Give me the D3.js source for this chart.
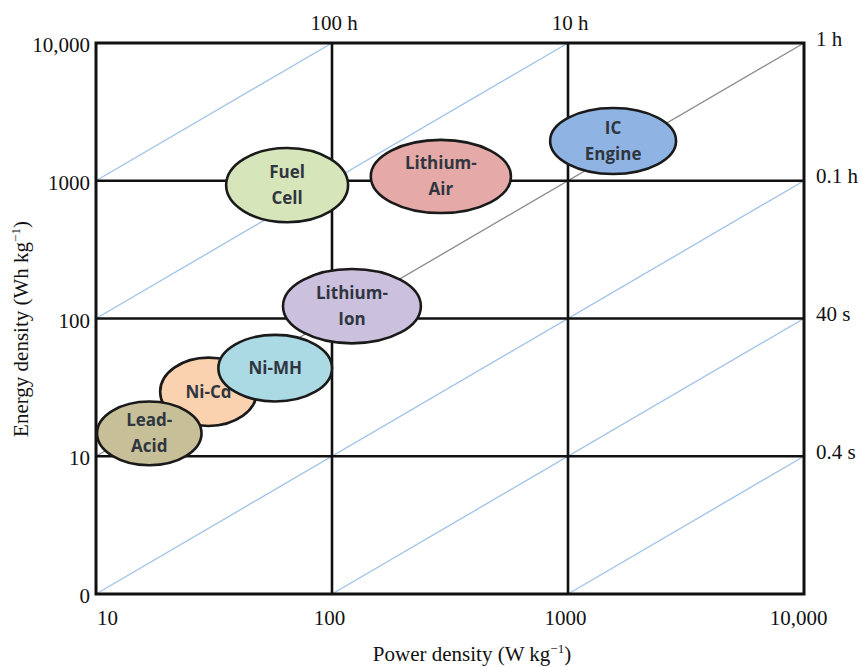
<!DOCTYPE html>
<html>
<head>
<meta charset="utf-8">
<script src="https://cdn.jsdelivr.net/npm/d3@7"></script>
<style>
  body { margin: 0; background: #fff; }
  svg { display: block; }
</style>
</head>
<body>
<svg id="plot" width="861" height="667"></svg>
<script>
// Ragone plot data
const powerTicks = [10, 100, 1000, 10000];
const powerTickLabels = ["10", "100", "1000", "10,000"];
const energyTicks = [1, 10, 100, 1000, 10000];
const energyTickLabels = ["0", "10", "100", "1000", "10,000"];

// discharge-time lines, hours (E / P)
const timeLines = [100, 10, 1, 0.1, 0.01, 0.001];
const topTimeLabels = ["100 h", "10 h"];
const topTimePower = [100, 1000];
const rightTimeLabels = ["1 h", "0.1 h", "40 s", "0.4 s"];
const rightTimeEnergy = [10000, 1000, 100, 10];

// technologies (drawing order), ranges in W/kg and Wh/kg
const techNames = ["Lithium-Ion", "Ni-Cd", "Lead-Acid", "Ni-MH", "Fuel Cell", "Lithium-Air", "IC Engine"];
const techLabels = ["Lithium-\nIon", "Ni-Cd", "Lead-\nAcid", "Ni-MH", "Fuel\nCell", "Lithium-\nAir", "IC\nEngine"];
const powerMin = [62, 18.7, 10.1, 33, 35.6, 146, 840];
const powerMax = [238, 48, 28, 100, 117, 573, 2870];
const energyMin = [66, 16.6, 8.6, 25, 500, 583, 1120];
const energyMax = [229, 52, 25, 76, 1730, 1980, 3370];

const techColors = {
    "Lithium-Ion": "#cbc0dd",
    "Ni-Cd": "#fbd2b0",
    "Lead-Acid": "#c6bf98",
    "Ni-MH": "#abd9e4",
    "Fuel Cell": "#d7e5ba",
    "Lithium-Air": "#e5a9a8",
    "IC Engine": "#8fb4e3"
};

const svg = d3.select("#plot");
const plotLeft = 96, plotRight = 804, plotTop = 43, plotBottom = 594;

const x = d3.scaleLog().domain([10, 10000]).range([plotLeft, plotRight]);
const y = d3.scaleLog().domain([1, 10000]).range([plotBottom, plotTop]);

const serif = "'Liberation Serif', 'Times New Roman', serif";

// time lines
timeLines.forEach(t => {
    const p0 = Math.max(10, 1 / t);
    const p1 = Math.min(10000, 10000 / t);
    svg.append("line")
        .attr("x1", x(p0))
        .attr("y1", y(p0 * t))
        .attr("x2", x(p1))
        .attr("y2", y(p1 * t))
        .attr("stroke", t === 1 ? "#8a8a8a" : "#9ec2e8")
        .attr("stroke-width", 1.3);
});

// grid lines
powerTicks.slice(1, -1).forEach(p => {
    svg.append("line")
        .attr("x1", x(p)).attr("x2", x(p))
        .attr("y1", plotTop).attr("y2", plotBottom)
        .attr("stroke", "#111").attr("stroke-width", 2.6);
});
energyTicks.slice(1, -1).forEach(e => {
    svg.append("line")
        .attr("x1", plotLeft).attr("x2", plotRight)
        .attr("y1", y(e)).attr("y2", y(e))
        .attr("stroke", "#111").attr("stroke-width", 2.6);
});
svg.append("rect")
    .attr("x", plotLeft).attr("y", plotTop)
    .attr("width", plotRight - plotLeft).attr("height", plotBottom - plotTop)
    .attr("fill", "none")
    .attr("stroke", "#111")
    .attr("stroke-width", 3);

// axes (labels only)
const xAxis = svg.append("g")
    .attr("transform", `translate(0,${plotBottom})`)
    .call(d3.axisBottom(x).tickValues(powerTicks).tickSize(0)
        .tickFormat((d, i) => powerTickLabels[i]));
xAxis.select(".domain").remove();
xAxis.selectAll("text")
    .attr("y", 31).attr("dy", 0)
    .attr("font-family", serif).attr("font-size", 21).attr("fill", "#111")
    .attr("dx", (d, i) => i === 0 ? 11 : (i === 3 ? -6 : -3));

const yAxis = svg.append("g")
    .attr("transform", `translate(${plotLeft},0)`)
    .call(d3.axisLeft(y).tickValues(energyTicks).tickSize(0)
        .tickFormat((d, i) => energyTickLabels[i]));
yAxis.select(".domain").remove();
yAxis.selectAll("text")
    .attr("x", -6).attr("dy", 8.5)
    .attr("font-family", serif).attr("font-size", 21).attr("fill", "#111");

// time labels
svg.selectAll(".top-label")
    .data(topTimeLabels)
    .join("text")
    .attr("x", (d, i) => x(topTimePower[i]) + 2)
    .attr("y", 30)
    .attr("text-anchor", "middle")
    .attr("font-family", serif).attr("font-size", 21).attr("fill", "#111")
    .text(d => d);

svg.selectAll(".right-label")
    .data(rightTimeLabels)
    .join("text")
    .attr("x", plotRight + 12)
    .attr("y", (d, i) => y(rightTimeEnergy[i]) + 2.5)
    .attr("font-family", serif).attr("font-size", 21).attr("fill", "#111")
    .text(d => d);

// technology ellipses
const techs = techNames.map((name, i) => ({
    name: name,
    label: techLabels[i],
    x0: x(powerMin[i]), x1: x(powerMax[i]),
    y0: y(energyMax[i]), y1: y(energyMin[i])
}));

const groups = svg.selectAll(".tech")
    .data(techs)
    .join("g")
    .attr("class", "tech");

groups.append("ellipse")
    .attr("cx", d => (d.x0 + d.x1) / 2)
    .attr("cy", d => (d.y0 + d.y1) / 2)
    .attr("rx", d => (d.x1 - d.x0) / 2)
    .attr("ry", d => (d.y1 - d.y0) / 2)
    .attr("fill", d => techColors[d.name])
    .attr("stroke", "#1a1a1a")
    .attr("stroke-width", 2.6);

groups.each(function(d) {
    const lines = d.label.split("\n");
    const cx = (d.x0 + d.x1) / 2;
    const cy = (d.y0 + d.y1) / 2;
    const lh = 26;
    const g = d3.select(this);
    lines.forEach((ln, j) => {
        g.append("text")
            .attr("x", cx)
            .attr("y", cy + (j - (lines.length - 1) / 2) * lh + 6)
            .attr("text-anchor", "middle")
            .attr("font-family", "'Open Sans', sans-serif")
            .attr("font-weight", "bold")
            .attr("font-size", 17)
            .attr("fill", "#30363f")
            .text(ln);
    });
});

// axis titles
const xTitle = svg.append("text")
    .attr("x", 472).attr("y", 661)
    .attr("text-anchor", "middle")
    .attr("font-family", serif).attr("font-size", 21).attr("fill", "#111");
xTitle.append("tspan").text("Power density (W kg");
xTitle.append("tspan").attr("dy", -8).attr("font-size", 13).text("\u22121");
xTitle.append("tspan").attr("dy", 8).text(")");

const yTitle = svg.append("text")
    .attr("transform", "translate(28,329) rotate(-90)")
    .attr("text-anchor", "middle")
    .attr("font-family", serif).attr("font-size", 21).attr("fill", "#111");
yTitle.append("tspan").text("Energy density (Wh kg");
yTitle.append("tspan").attr("dy", -8).attr("font-size", 13).text("\u22121");
yTitle.append("tspan").attr("dy", 8).text(")");
</script>
</body>
</html>
